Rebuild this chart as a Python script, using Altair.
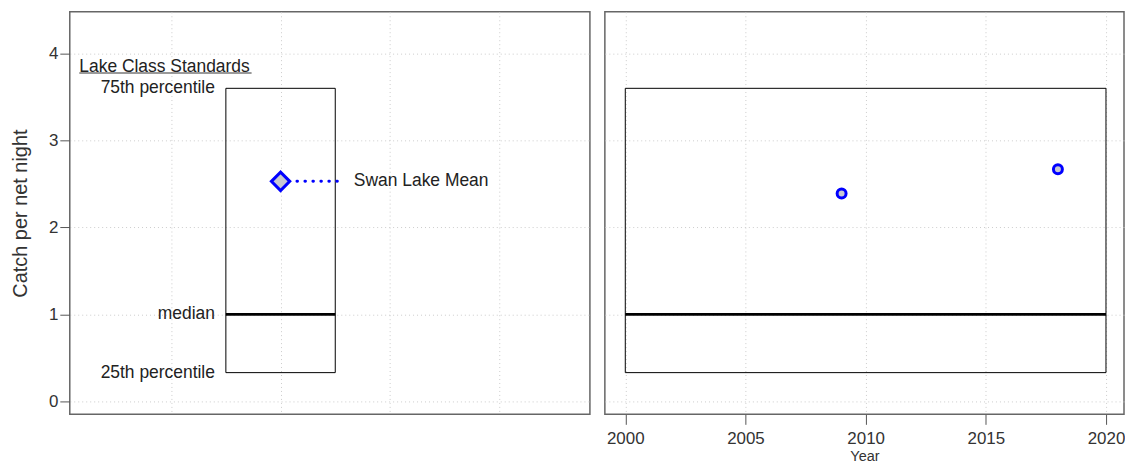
import altair as alt
import pandas as pd

# ---- data ----
y_ticks = [0, 1, 2, 3, 4]
left_grid = [1, 2, 3, 4]
year_ticks = [2000, 2005, 2010, 2015, 2020]

p25 = 0.33
median = 1.0
p75 = 3.6
swan_mean = 2.53

years = [2009, 2018]
cpue = [2.39, 2.67]

stat_labels = ["75th percentile", "median", "25th percentile"]
stat_values = [p75, median, p25]

# positions in the left (standards) panel, in its own x units
box_x = [1.5, 2.5]
mean_x = 2.0
dots_x = [2.15, 2.57]
mean_label_x = 2.67
stat_label_x = 1.4
header_x = [0.16, 1.735]
header_y = 3.85
underline_y = 3.776
year_span = [2000, 2020]

FONT = "Liberation Sans"
TXT = "#222222"
BLUE = "#0000ff"
FILL = "#c8c8d2"

y_dom = [-0.15, 4.48]
lx_dom = [0.073, 4.828]
rx_dom = [1999.15, 2020.75]

grid_kw = dict(grid=True, gridColor="#cccccc", gridDash=[1, 3], gridWidth=1)


def left_x(field):
    return alt.X(field, type="quantitative",
                 scale=alt.Scale(domain=lx_dom, nice=False, zero=False),
                 axis=alt.Axis(values=left_grid, labels=False, ticks=False, domain=False, **grid_kw),
                 title=None)


def left_y(field):
    return alt.Y(field, type="quantitative",
                 scale=alt.Scale(domain=y_dom, nice=False, zero=False),
                 axis=alt.Axis(values=y_ticks, tickSize=10, tickColor="#555555", labelPadding=2,
                               labelFontSize=17, labelFont=FONT, labelColor="#333333",
                               titleFontSize=20, titleFont=FONT, titleColor="#333333",
                               titleFontWeight="normal", titlePadding=18, domain=False,
                               **grid_kw),
                 title="Catch per net night")


def right_x(field):
    return alt.X(field, type="quantitative",
                 scale=alt.Scale(domain=rx_dom, nice=False, zero=False),
                 axis=alt.Axis(values=year_ticks, format="d", tickSize=10, tickColor="#555555",
                               labelPadding=6, labelFontSize=17, labelFont=FONT,
                               labelColor="#333333", titleFontSize=14.5, titleFont=FONT,
                               titleColor="#333333", titleFontWeight="normal", titlePadding=3,
                               domain=False, **grid_kw),
                 title="Year")


def right_y(field):
    return alt.Y(field, type="quantitative",
                 scale=alt.Scale(domain=y_dom, nice=False, zero=False),
                 axis=alt.Axis(values=y_ticks, labels=False, ticks=False, domain=False,
                               minExtent=0, **grid_kw),
                 title=None)


# ---- left panel ----
box_df = pd.DataFrame({"x": [box_x[0]], "x2": [box_x[1]], "y": [p25], "y2": [p75]})
med_df = pd.DataFrame({"x": [box_x[0]], "x2": [box_x[1]], "y": [median]})
mean_df = pd.DataFrame({"x": [mean_x], "y": [swan_mean]})
dots_df = pd.DataFrame({"x": [dots_x[0]], "x2": [dots_x[1]], "y": [swan_mean]})
mean_lab_df = pd.DataFrame({"x": [mean_label_x], "y": [swan_mean], "t": ["Swan Lake Mean"]})
stat_df = pd.DataFrame({"x": [stat_label_x] * 3, "y": stat_values, "t": stat_labels})
head_df = pd.DataFrame({"x": [header_x[0]], "y": [header_y], "t": ["Lake Class Standards"]})
ul_df = pd.DataFrame({"x": [header_x[0]], "x2": [header_x[1]], "y": [underline_y]})

l_box = alt.Chart(box_df).mark_rect(fillOpacity=0, stroke="black", strokeWidth=1).encode(
    x=left_x("x"), x2="x2", y=left_y("y"), y2="y2")
l_med = alt.Chart(med_df).mark_rule(color="black", strokeWidth=3).encode(
    x=left_x("x"), x2="x2", y=left_y("y"))
l_dots = alt.Chart(dots_df).mark_rule(color=BLUE, strokeWidth=3, strokeDash=[0.5, 7.5],
                                      strokeCap="round").encode(
    x=left_x("x"), x2="x2", y=left_y("y"))
l_mean = alt.Chart(mean_df).mark_point(shape="diamond", size=340, filled=True, fill=FILL,
                                       stroke=BLUE, strokeWidth=3, opacity=1).encode(
    x=left_x("x"), y=left_y("y"))
l_mean_lab = alt.Chart(mean_lab_df).mark_text(align="left", baseline="middle", fontSize=17.5,
                                              font=FONT, color=TXT).encode(
    x=left_x("x"), y=left_y("y"), text="t:N")
l_stat = alt.Chart(stat_df).mark_text(align="right", baseline="middle", fontSize=17.5,
                                      font=FONT, color=TXT).encode(
    x=left_x("x"), y=left_y("y"), text="t:N")
l_head = alt.Chart(head_df).mark_text(align="left", baseline="middle", fontSize=17.5,
                                      font=FONT, color=TXT).encode(
    x=left_x("x"), y=left_y("y"), text="t:N")
l_ul = alt.Chart(ul_df).mark_rule(color="#333333", strokeWidth=1).encode(
    x=left_x("x"), x2="x2", y=left_y("y"))

left = alt.layer(l_box, l_med, l_dots, l_mean, l_mean_lab, l_stat, l_head, l_ul).properties(
    width=522, height=404)

# ---- right panel ----
rbox_df = pd.DataFrame({"x": [year_span[0]], "x2": [year_span[1]], "y": [p25], "y2": [p75]})
rmed_df = pd.DataFrame({"x": [year_span[0]], "x2": [year_span[1]], "y": [median]})
pts_df = pd.DataFrame({"x": years, "y": cpue})

r_box = alt.Chart(rbox_df).mark_rect(fillOpacity=0, stroke="black", strokeWidth=1).encode(
    x=right_x("x"), x2="x2", y=right_y("y"), y2="y2")
r_med = alt.Chart(rmed_df).mark_rule(color="black", strokeWidth=3).encode(
    x=right_x("x"), x2="x2", y=right_y("y"))
r_pts = alt.Chart(pts_df).mark_point(shape="circle", size=81, filled=True, fill=FILL,
                                     stroke=BLUE, strokeWidth=3, opacity=1).encode(
    x=right_x("x"), y=right_y("y"))

right = alt.layer(r_box, r_med, r_pts).properties(width=521, height=404)

chart = alt.hconcat(left, right, spacing=13).properties(
    padding={"left": 1, "top": 2, "right": -1, "bottom": 0}
).configure_view(stroke="#666666", strokeWidth=1.5)

chart.save("out.html", embed_options={"renderer": "svg", "actions": False})
